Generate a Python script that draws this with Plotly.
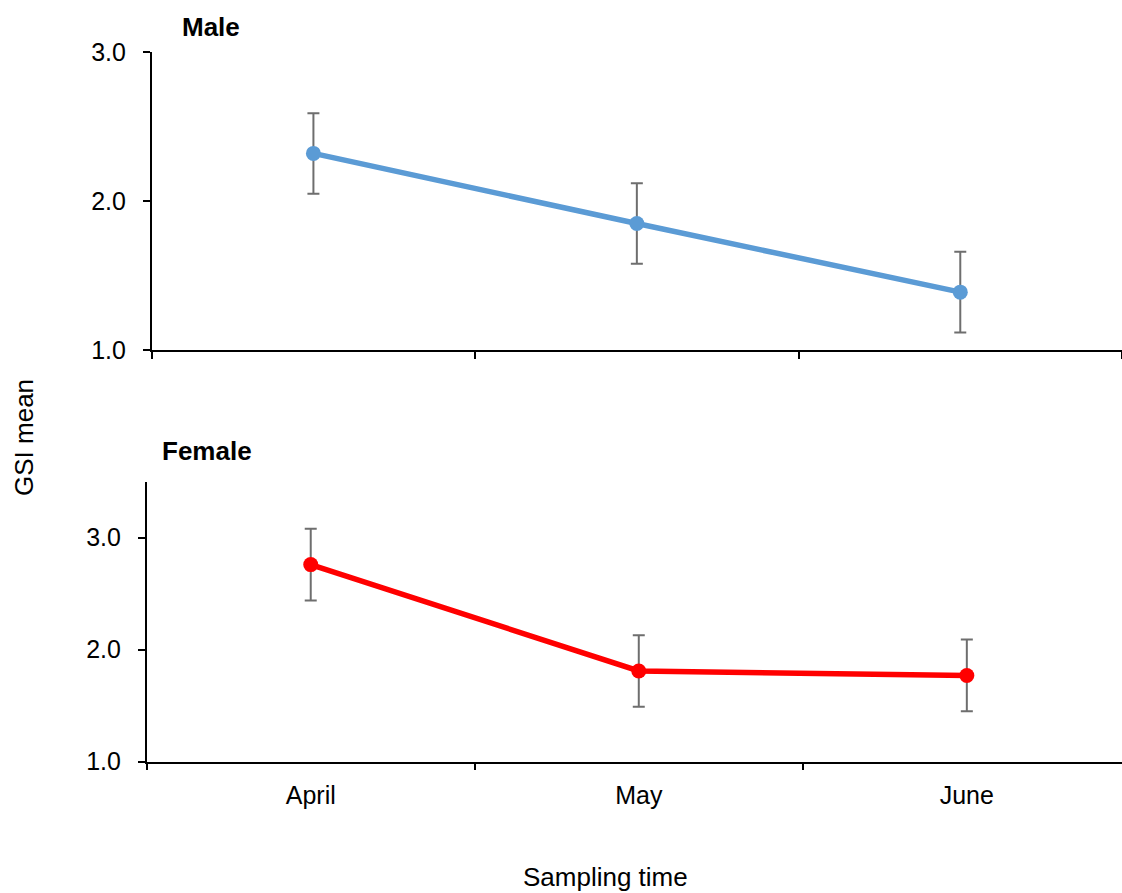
import plotly.graph_objects as go

# Sampling months and GSI means with error margins
months = ["April", "May", "June"]
male_mean = [2.32, 1.85, 1.39]
male_err = [0.27, 0.27, 0.27]
female_mean = [2.76, 1.81, 1.77]
female_err = [0.32, 0.32, 0.32]

W, H = 1122, 893
FONT = "Liberation Sans, Arial, sans-serif"
ERR_COLOR = "#6e6e6e"


def px_x(p):
    return p / W


def px_y(p):
    return 1 - p / H


fig = go.Figure()


def add_series(mean, err, color, xa, ya):
    # error bars first so the line and markers sit on top
    fig.add_trace(go.Scatter(
        x=months, y=mean, mode="markers",
        marker=dict(size=1, opacity=0),
        error_y=dict(type="data", array=err, visible=True,
                     color=ERR_COLOR, thickness=2, width=6),
        xaxis=xa, yaxis=ya, showlegend=False, hoverinfo="skip",
    ))
    fig.add_trace(go.Scatter(
        x=months, y=mean, mode="lines+markers",
        line=dict(color=color, width=5.5),
        marker=dict(color=color, size=15),
        xaxis=xa, yaxis=ya, showlegend=False,
    ))


add_series(male_mean, male_err, "#5B9BD5", "x", "y")
add_series(female_mean, female_err, "#FF0000", "x2", "y2")

axis_common = dict(
    showline=True, linecolor="black", linewidth=1.5,
    ticks="outside", tickcolor="black", tickwidth=1.5,
    showgrid=False, zeroline=False, automargin=False,
    tickfont=dict(family=FONT, size=25, color="black"),
)

fig.update_layout(
    template="none",
    width=W, height=H,
    margin=dict(l=0, r=0, t=0, b=0),
    paper_bgcolor="white", plot_bgcolor="white",
    xaxis=dict(
        **axis_common, type="category", tickson="boundaries", ticklen=7,
        domain=[px_x(151.7), 1], range=[-0.5, 2.5],
        showticklabels=False, anchor="y",
    ),
    yaxis=dict(
        **axis_common, domain=[px_y(350.3), px_y(52)], range=[1, 3],
        dtick=1, tickformat=".1f", ticklen=7, ticklabelstandoff=12,
        anchor="x",
    ),
    xaxis2=dict(
        **axis_common, type="category", tickson="boundaries", ticklen=7,
        domain=[px_x(146.7), 1], range=[-0.5, 2.473],
        anchor="y2", ticklabelstandoff=11,
    ),
    yaxis2=dict(
        **axis_common, domain=[px_y(761.7), px_y(481.7)], range=[1, 3.5],
        tickvals=[1, 2, 3], tickformat=".1f", ticklen=7, ticklabelstandoff=12,
        anchor="x2",
    ),
)

annotations = [
    dict(text="<b>Male</b>", x=px_x(180), y=px_y(27), xanchor="left", yanchor="middle",
         font=dict(family=FONT, size=26, color="black")),
    dict(text="<b>Female</b>", x=px_x(160), y=px_y(451), xanchor="left", yanchor="middle",
         font=dict(family=FONT, size=26, color="black")),
    dict(text="GSI mean", x=px_x(24), y=px_y(438), xanchor="center", yanchor="middle",
         textangle=-90, font=dict(family=FONT, size=26, color="black")),
    dict(text="Sampling time", x=px_x(605), y=px_y(877), xanchor="center", yanchor="middle",
         font=dict(family=FONT, size=26, color="black")),
]
for a in annotations:
    fig.add_annotation(xref="paper", yref="paper", showarrow=False, **a)

fig.write_html("out.html")
